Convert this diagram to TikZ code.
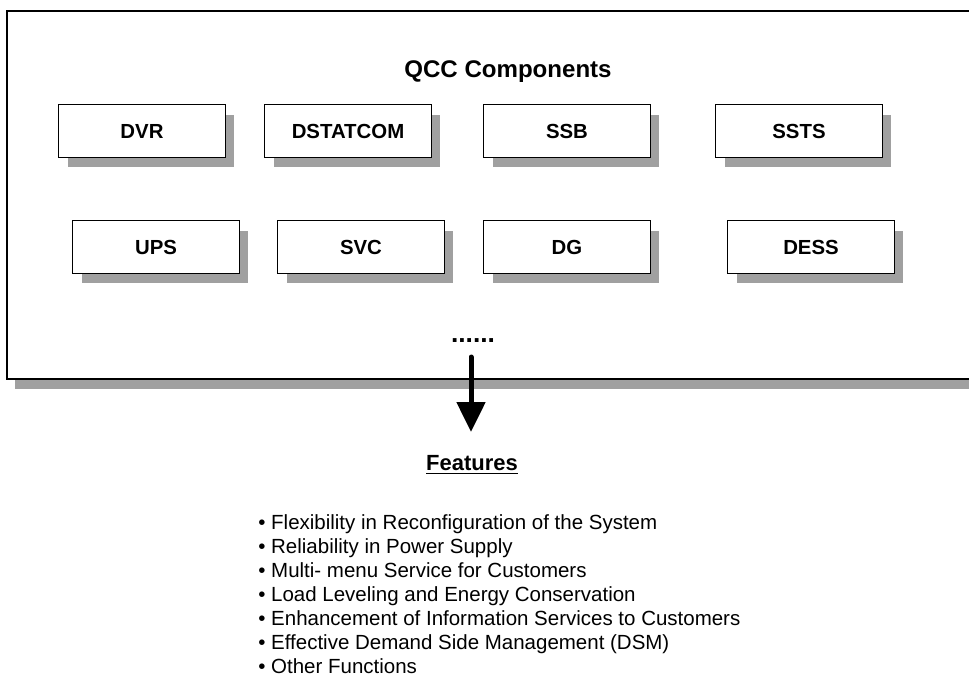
\documentclass[tikz,border=0pt]{standalone}
\usepackage{fontspec}
\setmainfont{Liberation Sans}
\usetikzlibrary{arrows.meta, shadows}
\definecolor{shadowgray}{RGB}{160,160,160}

\begin{document}
\begin{tikzpicture}[x=0.02cm, y=-0.02cm, comp/.style={draw, line width=1pt, fill=white, minimum width=3.34cm, minimum height=1.06cm, font=\fontsize{11.6}{13}\selectfont\bfseries, drop shadow={shadow xshift=0.18cm, shadow yshift=-0.2cm, fill=shadowgray, opacity=1}}, heading/.style={font=\fontsize{13.7}{16}\selectfont\bfseries}, bigarrow/.style={-{Triangle[width=0.56cm, length=0.6cm]}, line width=0.1cm, line cap=round}, featlist/.style={align=left, inner sep=0pt, font=\fontsize{11.66}{13.7}\selectfont}]

\useasboundingbox (0,0) rectangle (969,673); \clip (0,0) rectangle (969,673);
\fill[shadowgray] (15,21) rectangle (1000,389); \draw[line width=1.1pt, fill=white] (7,11) rectangle (990,379);

\node[heading] (title) at (508,72) {QCC Components};
\node[comp] (dvr) at (142,131) {DVR}; \node[comp] (dstatcom) at (348,131) {DSTATCOM};
\node[comp] (ssb) at (567,131) {SSB}; \node[comp] (ssts) at (799,131) {SSTS};
\node[comp] (ups) at (156,247) {UPS}; \node[comp] (svc) at (361,247) {SVC};
\node[comp] (dg) at (567,247) {DG}; \node[comp] (dess) at (811,247) {DESS};
\node[heading, anchor=base] (dots) at (473,342) {\fontsize{15}{16}\selectfont......};

\coordinate (atop) at (471,357); \coordinate (atip) at (471,432);
\draw[bigarrow] (atop)--(atip);

\node[font=\fontsize{12.5}{15}\selectfont\bfseries] (features) at (472,465) {\underline{Features}};
\node[featlist, anchor=north west] (list) at (258,514) {• Flexibility in Reconfiguration of the System\\• Reliability in Power Supply\\• Multi- menu Service for Customers\\• Load Leveling and Energy Conservation\\• Enhancement of Information Services to Customers\\• Effective Demand Side Management (DSM)\\• Other Functions};
\end{tikzpicture}
\end{document}
